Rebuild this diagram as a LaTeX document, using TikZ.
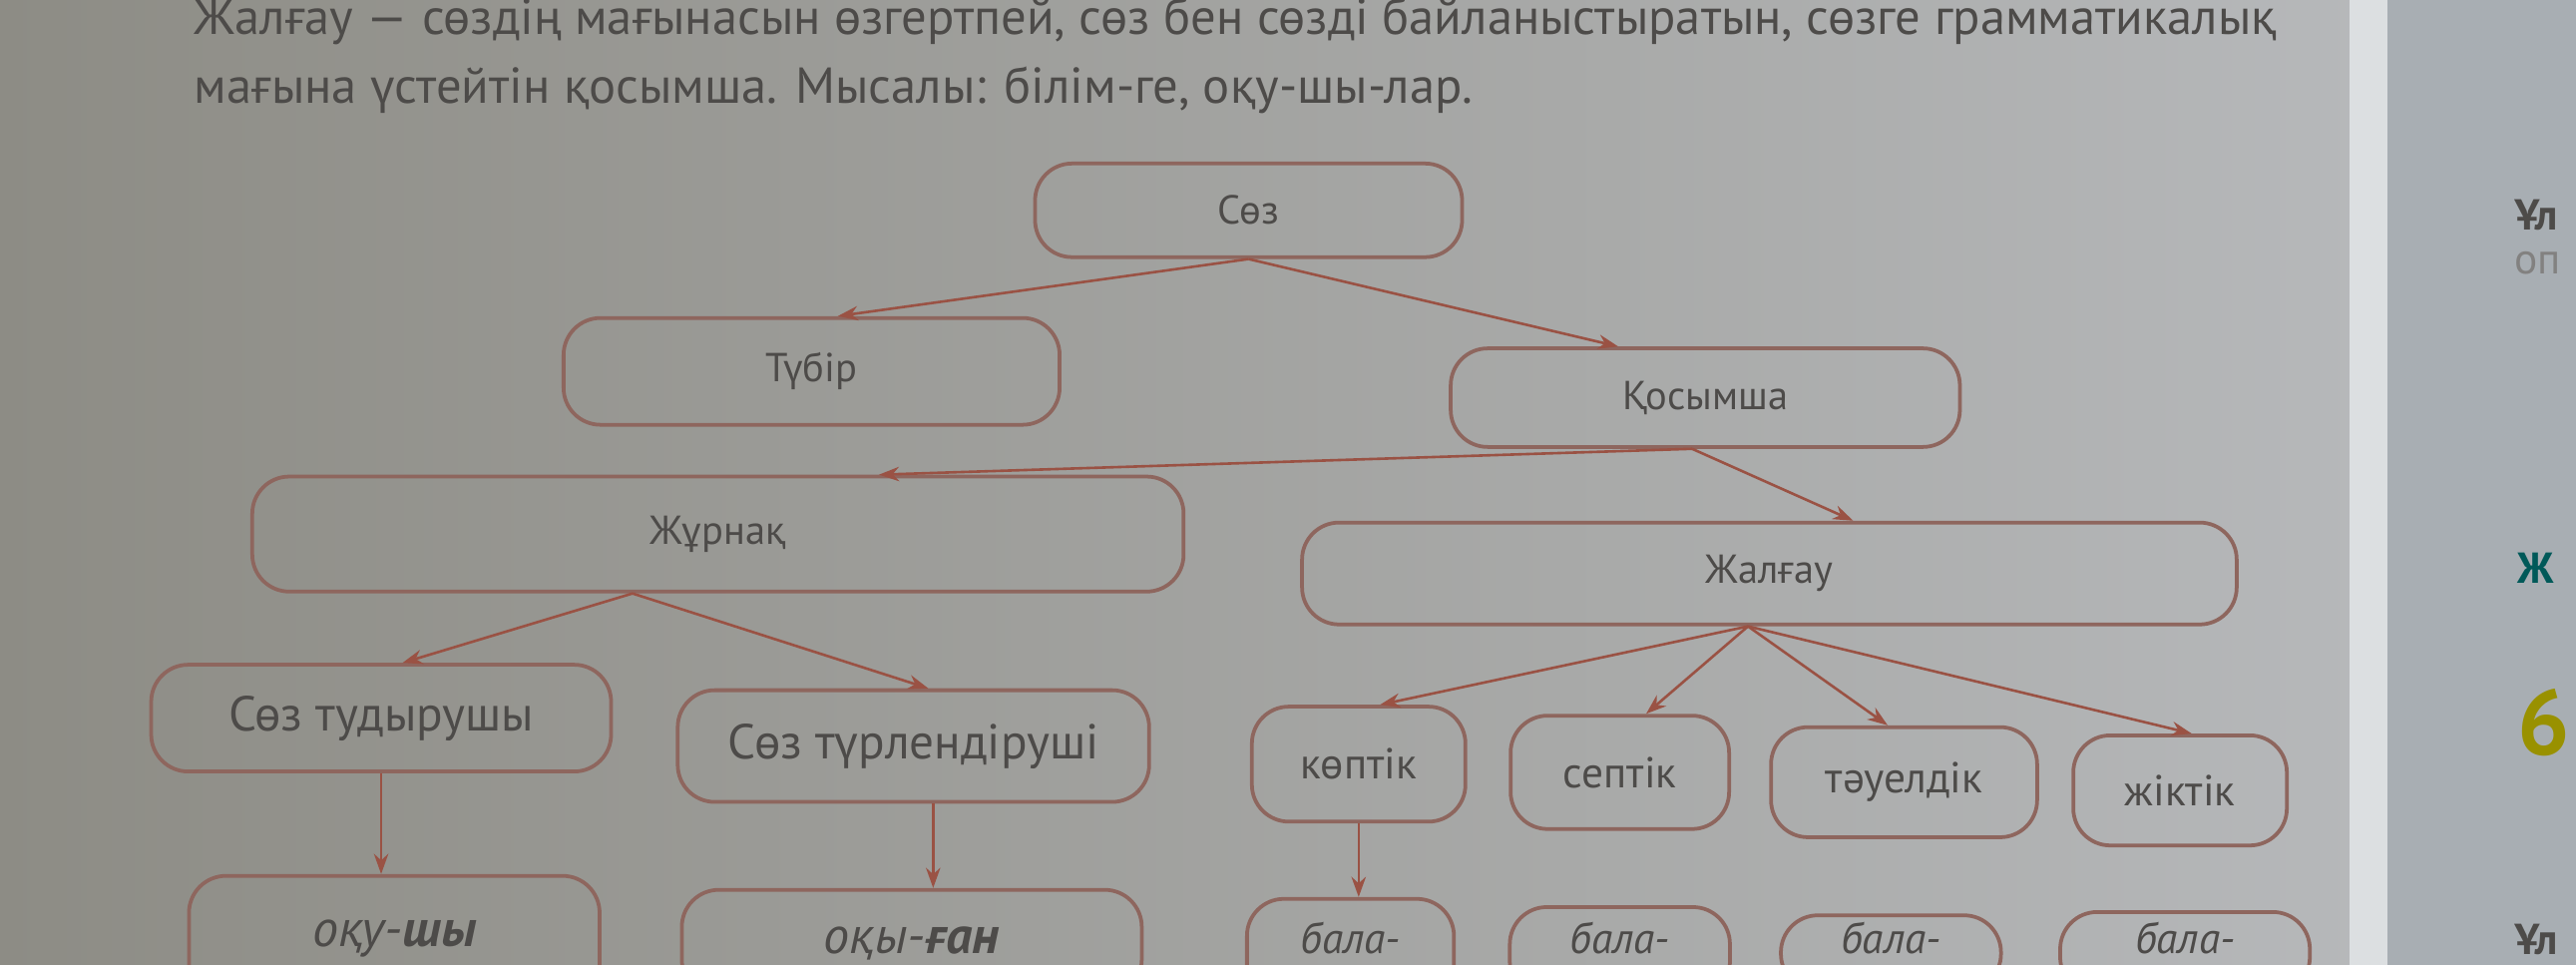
\documentclass[tikz,border=0pt]{standalone}
\usepackage{fontspec}
\setmainfont{PT Sans}
\usetikzlibrary{calc,arrows.meta}
\definecolor{bgleft}{HTML}{8D8C85}
\definecolor{bgmid}{HTML}{A7A19D}
\definecolor{bgright}{HTML}{B6B8BA}
\definecolor{otherpage}{HTML}{A8AEB3}
\definecolor{boxedge}{HTML}{8E665E}
\definecolor{linkred}{HTML}{9A5244}
\definecolor{ink}{HTML}{4D4B49}

\begin{document}
\begin{tikzpicture}[x=0.02cm,y=-0.02cm,
  box/.style={draw=boxedge,line width=1.3pt,rounded corners=0.45cm,inner sep=2pt,text=ink,font=\fontsize{14}{16}\selectfont},
  midbox/.style={box,font=\fontsize{17}{19}\selectfont},
  small/.style={box,font=\fontsize{15}{17}\selectfont},
  example/.style={box,font=\fontsize{18}{20}\selectfont\itshape},
  balabox/.style={box,font=\fontsize{15}{17}\selectfont\itshape,text depth=0.36cm},
  link/.style={draw=linkred,line width=0.9pt,-{Stealth[length=7pt,width=5pt]}},
  para/.style={anchor=west,inner sep=0pt,text=ink,font=\fontsize{17.5}{20}\selectfont}]
 \useasboundingbox (0,0) rectangle (1568,587);
 \clip (0,0) rectangle (1568,587);
 \shade[left color=bgleft,middle color=bgmid,right color=bgright] (0,0) rectangle (1440,587);
 \fill[otherpage!40!white] (1430,0) rectangle (1453,587);
 \fill[otherpage] (1453,0) rectangle (1568,587);
 %
 \node[para] (line1) at (118,13) {Жалғау --- сөздің мағынасын өзгертпей, сөз бен сөзді байланыстыратын, сөзге грамматикалық};
 \node[para] (line2) at (118,55) {мағына үстейтін қосымша. Мысалы: білім-ге, оқу-шы-лар.};
 \node[para,font=\fontsize{15}{17}\selectfont\bfseries] (r1) at (1530,131) {Ұл};
 \node[para,text=ink!70,font=\fontsize{15}{17}\selectfont] (r2) at (1530,160) {оп};
 \node[para,text=teal!70!black,font=\fontsize{15}{17}\selectfont\bfseries] (r3) at (1532,346) {Ж};
 \node[para,text=olive!90!yellow,font=\fontsize{32}{34}\selectfont\bfseries] (r4) at (1532,440) {6};
 \node[para,font=\fontsize{15}{17}\selectfont\bfseries] (r5) at (1530,572) {Ұл};
 %
 \node[box,minimum width=5.2cm,minimum height=1.14cm] (soz) at (760,128) {Сөз};
 \node[box,minimum width=6.04cm,minimum height=1.3cm] (tubir) at (494,226) {Түбір};
 \node[box,minimum width=6.2cm,minimum height=1.2cm] (kosymsha) at (1038,242) {Қосымша};
 \node[box,minimum width=11.34cm,minimum height=1.4cm] (zhurnak) at (437,325) {Жұрнақ};
 \node[box,minimum width=11.38cm,minimum height=1.24cm] (zhalgau) at (1077,349) {Жалғау};
 \node[midbox,minimum width=5.6cm,minimum height=1.3cm] (tudyrushy) at (232,437) {Сөз тудырушы};
 \node[midbox,minimum width=5.74cm,minimum height=1.36cm] (turlendirushi) at (556,454) {Сөз түрлендіруші};
 \node[small,minimum width=2.6cm,minimum height=1.4cm] (koptik) at (827,465) {көптік};
 \node[small,minimum width=2.66cm,minimum height=1.38cm] (septik) at (986,470) {септік};
 \node[small,minimum width=3.24cm,minimum height=1.34cm] (tauyeldik) at (1159,476) {тәуелдік};
 \node[small,minimum width=2.6cm,minimum height=1.34cm] (zhiktik) at (1327,481) {жіктік};
 \node[example,minimum width=5cm,minimum height=1.52cm] (okushy) at (240,571) {оқу-\textbf{шы}};
 \node[example,minimum width=5.6cm,minimum height=1.3cm] (okygan) at (555,574) {оқы-\textbf{ған}};
 \node[balabox,minimum width=2.52cm,minimum height=1.32cm] (bala1) at (822,580) {бала-};
 \node[balabox,minimum width=2.68cm,minimum height=1.12cm] (bala2) at (986,580) {бала-};
 \node[balabox,minimum width=2.68cm,minimum height=0.92cm] (bala3) at (1151,580) {бала-};
 \node[balabox,minimum width=3.04cm,minimum height=1.0cm] (bala4) at (1330,580) {бала-};
 %
 \coordinate (tl) at ($(turlendirushi.south)+(12,0)$);
 \draw[link] (soz.south) -- ($(tubir.north)+(16,0)$);
 \draw[link] (soz.south) -- ($(kosymsha.north)+(-53,0)$);
 \draw[link] ($(kosymsha.south)+(-8,0)$) -- ($(zhurnak.north)+(98,0)$);
 \draw[link] ($(kosymsha.south)+(-8,0)$) -- ($(zhalgau.north)+(51,0)$);
 \draw[link] ($(zhurnak.south)+(-52,0)$) -- ($(tudyrushy.north)+(13,0)$);
 \draw[link] ($(zhurnak.south)+(-52,0)$) -- ($(turlendirushi.north)+(9,0)$);
 \draw[link] ($(zhalgau.south)+(-13,0)$) -- ($(koptik.north)+(13,0)$);
 \draw[link] ($(zhalgau.south)+(-13,0)$) -- ($(septik.north)+(16,0)$);
 \draw[link] ($(zhalgau.south)+(-13,0)$) -- ($(tauyeldik.north)+(-10,0)$);
 \draw[link] ($(zhalgau.south)+(-13,0)$) -- ($(zhiktik.north)+(7,0)$);
 \draw[link] (tudyrushy.south) -- (tudyrushy.south |- okushy.north);
 \draw[link] (tl) -- (tl |- okygan.north);
 \draw[link] (koptik.south) -- (koptik.south |- bala1.north);
\end{tikzpicture}
\end{document}
